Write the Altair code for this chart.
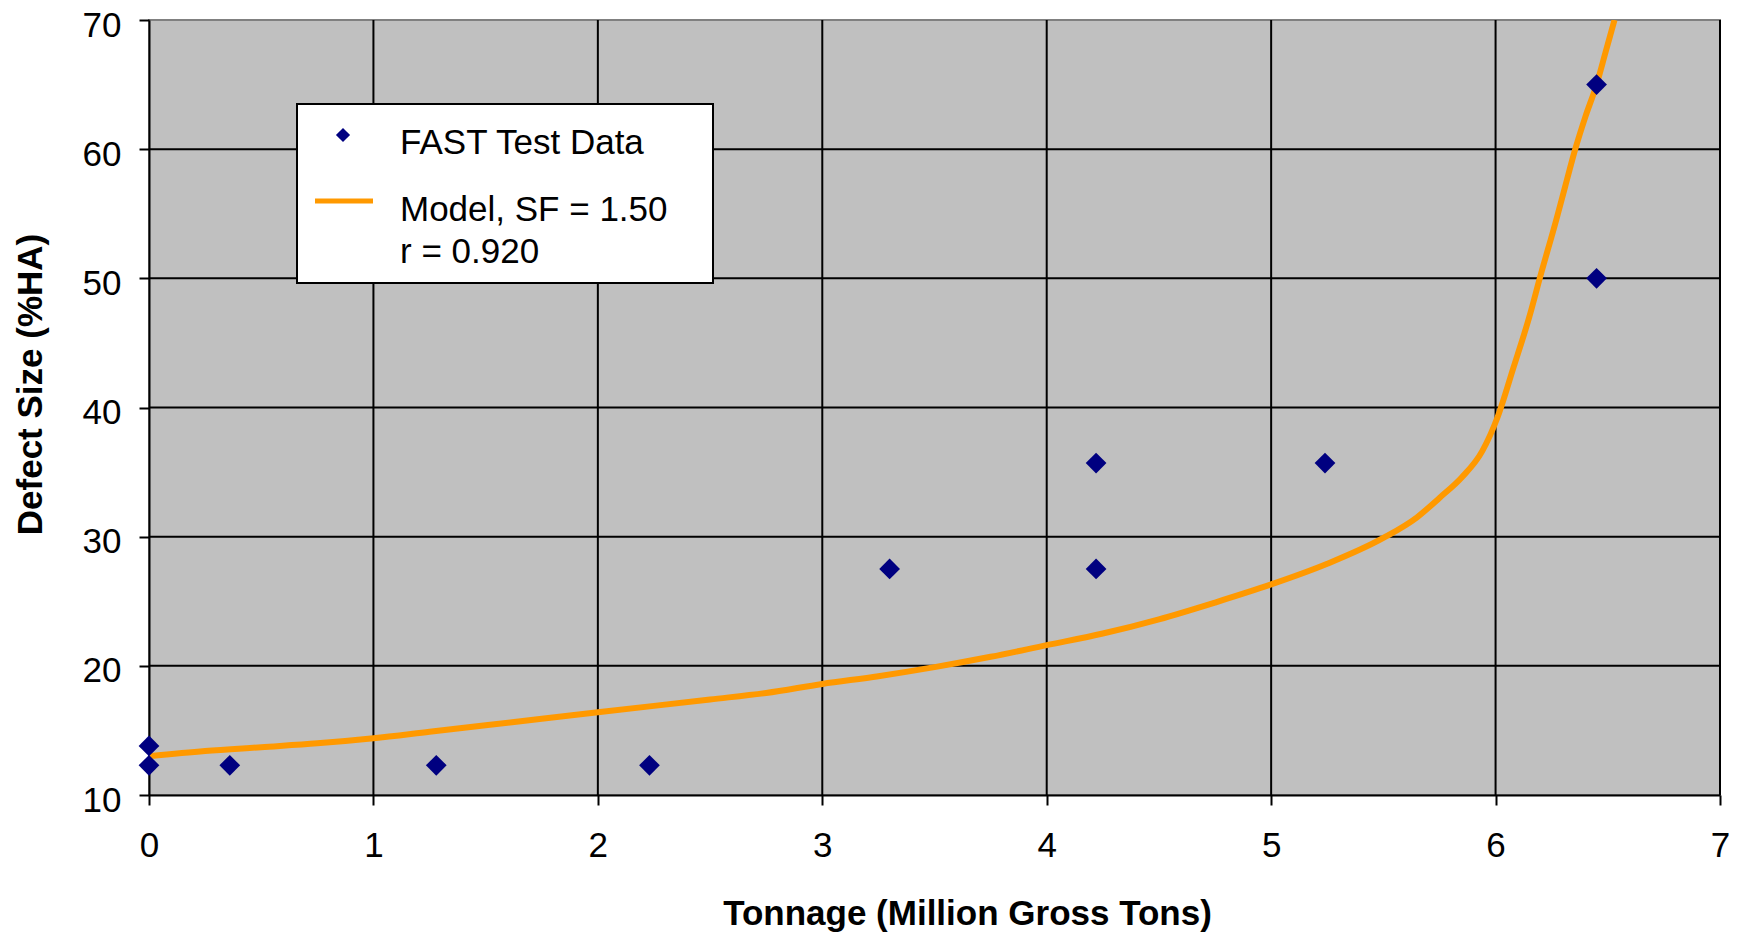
import altair as alt
import pandas as pd

# ---- data ----
test_x = [0.0, 0.0, 0.36, 1.28, 2.23, 3.30, 4.22, 4.22, 5.24, 6.45, 6.45]
test_y = [13.8, 12.3, 12.3, 12.3, 12.3, 27.5, 35.7, 27.5, 35.7, 65.0, 50.0]

model_x = [0.0, 0.25, 0.5, 0.75, 1.0, 1.25, 1.5, 1.75, 2.0, 2.25, 2.5, 2.75,
           3.0, 3.25, 3.5, 3.75, 4.0, 4.25, 4.5, 4.75, 5.0, 5.25, 5.5, 5.65,
           5.75, 5.85, 5.94, 6.01, 6.08, 6.15, 6.20, 6.27, 6.31, 6.355, 6.40,
           6.45, 6.49, 6.53]
model_y = [13.0, 13.4, 13.7, 14.0, 14.4, 14.9, 15.4, 15.9, 16.4, 16.9, 17.4, 17.9,
           18.6, 19.2, 19.9, 20.7, 21.6, 22.5, 23.6, 24.9, 26.3, 27.9, 29.9, 31.5,
           33.0, 34.6, 36.6, 39.3, 43.1, 47.0, 50.2, 54.5, 57.1, 60.0, 62.5,
           65.0, 67.5, 70.0]

x_ticks = [0, 1, 2, 3, 4, 5, 6, 7]
y_ticks = [10, 20, 30, 40, 50, 60, 70]
x_grid = [1, 2, 3, 4, 5, 6, 7]
y_grid = [20, 30, 40, 50, 60]

x_title = "Tonnage (Million Gross Tons)"
y_title = "Defect Size (%HA)"
legend_labels = ["FAST Test Data", "Model, SF = 1.50", "r = 0.920"]

# ---- styling ----
FONT = "Liberation Sans"
FS = 35
W, H = 1571, 775
NAVY = "#000080"
ORANGE = "#FF9900"

pts = pd.DataFrame({"x": test_x, "y": test_y})
model = pd.DataFrame({"x": model_x, "y": model_y})
xg = pd.DataFrame({"x": x_grid})
yg = pd.DataFrame({"y": y_grid})

xscale = alt.Scale(domain=[0, 7], nice=False, zero=False)
yscale = alt.Scale(domain=[10, 70], nice=False, zero=False)

xaxis = alt.Axis(
    values=x_ticks, title=x_title, grid=False, format="d",
    labelFont=FONT, labelFontSize=FS, labelColor="black", labelPadding=23,
    labelFlush=False, labelOverlap=False, labelBound=False,
    tickSize=10, tickWidth=2, tickColor="black",
    domainColor="black", domainWidth=2,
    titleFont=FONT, titleFontSize=FS, titleFontWeight="bold", titleColor="black",
    titleX=818, titleY=129, titleBaseline="alphabetic", titleAlign="center",
)
yaxis = alt.Axis(
    values=y_ticks, title=y_title, grid=False, format="d",
    labelFont=FONT, labelFontSize=FS, labelColor="black", labelPadding=18,
    labelOffset=5,
    labelFlush=False, labelOverlap=False, labelBound=False,
    tickSize=10, tickWidth=2, tickColor="black",
    domainColor="black", domainWidth=2,
    titleFont=FONT, titleFontSize=FS, titleFontWeight="bold", titleColor="black",
    titleAngle=270, titleX=-108, titleY=364, titleBaseline="alphabetic",
    titleAlign="center",
)

vgrid = alt.Chart(xg).mark_rule(color="black", strokeWidth=2).encode(
    x=alt.X("x:Q", scale=xscale, axis=xaxis)
)
hgrid = alt.Chart(yg).mark_rule(color="black", strokeWidth=2).encode(
    y=alt.Y("y:Q", scale=yscale, axis=yaxis)
)
line = alt.Chart(model).mark_line(
    color=ORANGE, strokeWidth=6, clip=True, interpolate="monotone"
).encode(
    x=alt.X("x:Q", scale=xscale),
    y=alt.Y("y:Q", scale=yscale),
)
points = alt.Chart(pts).mark_point(
    shape="diamond", filled=True, color=NAVY, opacity=1, size=430
).encode(
    x=alt.X("x:Q", scale=xscale),
    y=alt.Y("y:Q", scale=yscale),
)

one = pd.DataFrame({"k": [0]})
leg_box = alt.Chart(one).mark_rect(fill="white", stroke="black", strokeWidth=2).encode(
    x=alt.value(148), x2=alt.value(564), y=alt.value(84), y2=alt.value(263)
)
leg_pt = alt.Chart(one).mark_point(
    shape="diamond", filled=True, color=NAVY, opacity=1, size=200
).encode(x=alt.value(194), y=alt.value(115))
leg_line = alt.Chart(one).mark_rule(color=ORANGE, strokeWidth=5).encode(
    x=alt.value(166), x2=alt.value(224), y=alt.value(181)
)
txt_kw = dict(font=FONT, fontSize=FS, color="black", align="left", baseline="alphabetic")
leg_t1 = alt.Chart(one).mark_text(**txt_kw).encode(
    x=alt.value(251), y=alt.value(134), text=alt.value(legend_labels[0]))
leg_t2 = alt.Chart(one).mark_text(**txt_kw).encode(
    x=alt.value(251), y=alt.value(201), text=alt.value(legend_labels[1]))
leg_t3 = alt.Chart(one).mark_text(**txt_kw).encode(
    x=alt.value(251), y=alt.value(243), text=alt.value(legend_labels[2]))

chart = alt.layer(
    vgrid, hgrid, line, points, leg_box, leg_pt, leg_line, leg_t1, leg_t2, leg_t3
).properties(
    width=W, height=H,
    autosize=alt.AutoSizeParams(type="none"),
    padding={"left": 141, "top": 12, "right": 9, "bottom": 137},
    background="white",
).configure_view(
    fill="#C0C0C0", stroke="#808080", strokeWidth=2
)

chart.save("out.html", embed_options={"renderer": "svg", "actions": False})
